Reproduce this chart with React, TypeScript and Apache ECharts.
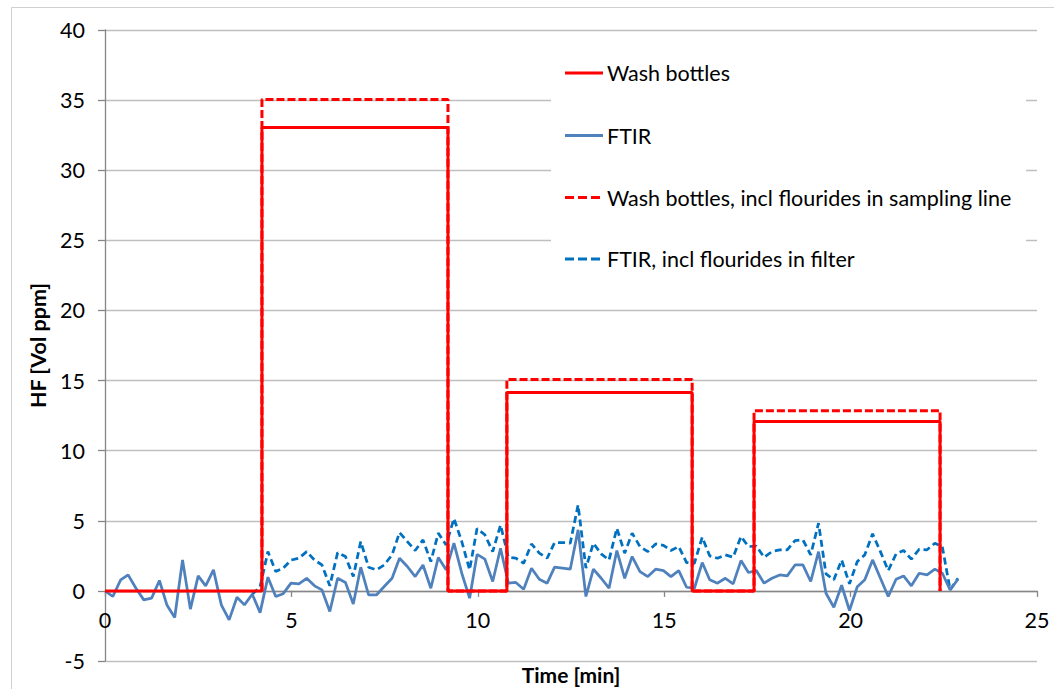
import React, { useEffect, useRef } from "react";
import * as echarts from "echarts";

const FONT = "Lato, 'Open Sans', sans-serif";

// Wash bottle step curves (time [min], HF [vol ppm])
const WASH_T = [0, 4.21, 4.21, 9.2, 9.2, 10.78, 10.78, 15.75, 15.75, 17.41, 17.41, 22.4, 22.4];
const WASH_V = [0, 0, 33.05, 33.05, 0, 0, 14.15, 14.15, 0, 0, 12.08, 12.08, 0];
const WASHL_T = [4.21, 4.21, 9.2, 9.2, 10.78, 10.78, 15.75, 15.75, 17.41, 17.41, 22.4, 22.4];
const WASHL_V = [0, 35.05, 35.05, 0, 0, 15.08, 15.08, 0, 0, 12.85, 12.85, 0];

// FTIR sample times [min]
const FTIR_T = [
  0, 0.21, 0.42, 0.62, 0.83, 1.04, 1.25, 1.46, 1.66, 1.87,
  2.08, 2.29, 2.5, 2.7, 2.91, 3.12, 3.33, 3.54, 3.74, 3.95,
  4.16, 4.37, 4.58, 4.78, 4.99, 5.2, 5.41, 5.62, 5.82, 6.03,
  6.24, 6.45, 6.66, 6.86, 7.07, 7.28, 7.49, 7.7, 7.9, 8.11,
  8.32, 8.53, 8.74, 8.94, 9.15, 9.36, 9.57, 9.78, 9.98, 10.19,
  10.4, 10.61, 10.82, 11.02, 11.23, 11.44, 11.65, 11.86, 12.06, 12.27,
  12.48, 12.69, 12.9, 13.1, 13.31, 13.52, 13.73, 13.94, 14.14, 14.35,
  14.56, 14.77, 14.98, 15.18, 15.39, 15.6, 15.81, 16.02, 16.22, 16.43,
  16.64, 16.85, 17.06, 17.26, 17.47, 17.68, 17.89, 18.1, 18.3, 18.51,
  18.72, 18.93, 19.14, 19.34, 19.55, 19.76, 19.97, 20.18, 20.38, 20.59,
  20.8, 21.01, 21.22, 21.42, 21.63, 21.84, 22.05, 22.26, 22.46, 22.67, 22.88,
];

const FTIR_V = [
  0.0, -0.4, 0.78, 1.14, 0.19, -0.64, -0.52, 0.74, -1.0, -1.9,
  2.2, -1.3, 1.07, 0.36, 1.5, -1.0, -2.07, -0.45, -1.0, -0.24,
  -1.55, 0.98, -0.4, -0.2, 0.55, 0.5, 0.9, 0.36, 0.07, -1.47,
  0.9, 0.6, -0.93, 1.69, -0.29, -0.29, 0.31, 0.9, 2.33, 1.74,
  1.02, 1.85, 0.19, 2.38, 1.5, 3.4, 1.26, -0.52, 2.6, 2.26,
  0.67, 3.04, 0.55, 0.6, 0.12, 1.62, 0.83, 0.55, 1.69, 1.62,
  1.55, 4.35, -0.4, 1.55, 0.9, 0.19, 2.88, 0.9, 2.45, 1.38,
  1.02, 1.55, 1.45, 1.02, 1.45, 0.26, 0.19, 2.02, 0.79, 0.55,
  0.9, 0.5, 2.16, 1.31, 1.45, 0.55, 0.9, 1.14, 1.07, 1.85,
  1.85, 0.67, 2.8, -0.17, -1.17, 0.4, -1.4, 0.3, 0.79, 2.21,
  0.9, -0.4, 0.83, 1.07, 0.36, 1.26, 1.14, 1.55, 1.26, 0.07, 0.83,
];

const FTIRF_V = [
  null, null, null, null, null, null, null, null, null, null,
  null, null, null, null, null, null, null, null, null, -0.24,
  0.3, 2.8, 1.38, 1.62, 2.2, 2.33, 2.8, 2.2, 1.85, 0.36,
  2.73, 2.45, 1.02, 3.52, 1.69, 1.5, 1.85, 2.57, 4.16, 3.52,
  2.88, 3.64, 2.09, 4.12, 3.28, 5.16, 3.52, 1.5, 4.45, 4.0,
  2.8, 4.7, 2.4, 2.33, 1.97, 3.35, 2.69, 2.33, 3.45, 3.45,
  3.4, 6.13, 1.62, 3.4, 2.64, 2.2, 4.47, 2.69, 4.12, 3.16,
  2.8, 3.35, 3.25, 2.88, 3.16, 2.02, 1.97, 3.83, 2.5, 2.33,
  2.57, 2.4, 3.88, 3.16, 3.2, 2.4, 2.8, 2.93, 2.93, 3.59,
  3.64, 2.57, 4.83, 1.21, 0.79, 2.2, 0.5, 2.1, 2.57, 4.07,
  2.8, 1.45, 2.64, 2.88, 2.26, 2.97, 2.93, 3.4, 3.16, 0.07, 0.9,
];

const NAMES = [
  "Wash bottles",
  "FTIR",
  "Wash bottles, incl flourides in sampling line",
  "FTIR, incl flourides in filter",
];
const COLORS = ["#FF0000", "#4F81BD", "#FF0000", "#0070C0"];
const DASHED = [false, false, true, true];

const zip = (t: number[], v: (number | null)[]) => t.map((x, i) => [x, v[i]]);

export default function App() {
  const ref = useRef<HTMLDivElement>(null);
  useEffect(() => {
    if (!ref.current) return;
    const chart = echarts.init(ref.current, undefined, { renderer: "svg" });

    const legendRows = [73, 135.5, 197.5, 259];
    const legendItems: any[] = [];
    NAMES.forEach((name, i) => {
      legendItems.push({
        type: "line",
        z: 10,
        silent: true,
        shape: { x1: 565, y1: legendRows[i], x2: 603, y2: legendRows[i] },
        style: {
          stroke: COLORS[i],
          lineWidth: 3,
          lineDash: DASHED[i] ? [9, 4] : null,
        },
      });
      legendItems.push({
        type: "text",
        z: 10,
        silent: true,
        x: 607,
        y: legendRows[i],
        style: {
          text: name,
          fill: "#000",
          fontSize: 21.5,
          fontFamily: FONT,
          verticalAlign: "middle",
          align: "left",
        },
      });
    });

    chart.setOption({
      animation: false,
      backgroundColor: "#fff",
      textStyle: { fontFamily: FONT },
      grid: {
        left: 105,
        top: 30,
        width: 932,
        height: 631,
        containLabel: false,
        outerBoundsMode: "none",
      },
      graphic: [
        {
          type: "rect",
          z: -10,
          silent: true,
          shape: { x: 11.5, y: 7.5, width: 1100, height: 800 },
          style: { fill: "none", stroke: "#d0d0d0", lineWidth: 1 },
        },
        {
          type: "rect",
          z: 1,
          silent: true,
          shape: { x: 551, y: 42, width: 475, height: 245 },
          style: { fill: "#fff" },
        },
        ...legendItems,
      ],
      xAxis: {
        type: "value",
        min: 0,
        max: 25,
        interval: 5,
        name: "Time [min]",
        nameLocation: "middle",
        nameGap: 3,
        nameTextStyle: { fontWeight: "bold", fontSize: 21, color: "#000", fontFamily: FONT },
        axisLine: { show: true, onZero: true, lineStyle: { color: "#868686", width: 1.3 } },
        axisTick: { show: true, length: 6, lineStyle: { color: "#868686", width: 1.3 } },
        axisLabel: { margin: -52, fontSize: 21.5, color: "#000", fontFamily: FONT },
        splitLine: { show: false },
      },
      yAxis: {
        type: "value",
        min: -5,
        max: 40,
        interval: 5,
        name: "HF [Vol ppm]",
        nameLocation: "middle",
        nameGap: 56,
        nameRotate: 90,
        nameTextStyle: { fontWeight: "bold", fontSize: 21.5, color: "#000", fontFamily: FONT },
        axisLine: { show: true, lineStyle: { color: "#868686", width: 1.3 } },
        axisTick: { show: true, length: 7, lineStyle: { color: "#868686", width: 1.3 } },
        axisLabel: { margin: 20, fontSize: 21.5, color: "#000", fontFamily: FONT },
        splitLine: { show: true, lineStyle: { color: "#bfbfbf", width: 1.3 } },
      },
      series: [
        {
          name: NAMES[3],
          type: "line",
          data: zip(FTIR_T, FTIRF_V),
          symbol: "none",
          z: 2,
          lineStyle: { color: COLORS[3], width: 2.75, type: [7, 4] },
          itemStyle: { color: COLORS[3] },
        },
        {
          name: NAMES[1],
          type: "line",
          data: zip(FTIR_T, FTIR_V),
          symbol: "none",
          z: 3,
          lineStyle: { color: COLORS[1], width: 2.75 },
          itemStyle: { color: COLORS[1] },
        },
        {
          name: NAMES[2],
          type: "line",
          data: zip(WASHL_T, WASHL_V),
          symbol: "none",
          z: 4,
          lineStyle: { color: COLORS[2], width: 3, type: [8, 3] },
          itemStyle: { color: COLORS[2] },
        },
        {
          name: NAMES[0],
          type: "line",
          data: zip(WASH_T, WASH_V),
          symbol: "none",
          z: 5,
          lineStyle: { color: COLORS[0], width: 3 },
          itemStyle: { color: COLORS[0] },
        },
      ],
    });
    return () => chart.dispose();
  }, []);
  return (
    <div
      ref={ref}
      style={{ position: "fixed", left: 0, top: 0, width: 1054, height: 689 }}
    />
  );
}
